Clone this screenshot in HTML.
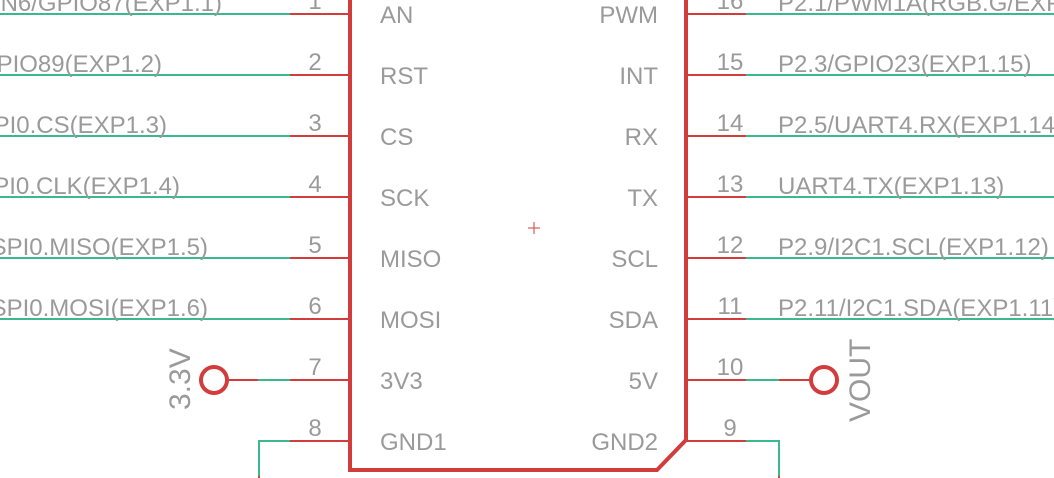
<!DOCTYPE html>
<html><head><meta charset="utf-8"><style>
html,body{margin:0;padding:0;background:#fff;width:1054px;height:478px;overflow:hidden}
svg text{font-family:"Liberation Sans",sans-serif;fill:#9a9a9a;font-size:24px}
svg text.rot{font-size:30px}
</style></head><body>
<svg width="1054" height="478" viewBox="0 0 1054 478">
<g id="g"></g>
<path d="M350,-5 L350,470 L657,470 L686,440 L686,-5" fill="none" stroke="#d33c3c" stroke-width="4"/>
<path d="M528,228 h12 M534,222 v12" stroke="#d33c3c" stroke-width="1"/>
<circle cx="214" cy="380" r="13" fill="none" stroke="#d33c3c" stroke-width="4"/>
<text class="rot" transform="translate(190,410) rotate(-90)">3.3V</text>
<circle cx="824" cy="380" r="13" fill="none" stroke="#d33c3c" stroke-width="4"/>
<text class="rot" transform="translate(870,422) rotate(-90)">VOUT</text>
</svg>
<script>
const leftPins=["AN","RST","CS","SCK","MISO","MOSI","3V3","GND1"];
const rightPins=["PWM","INT","RX","TX","SCL","SDA","5V","GND2"];
const leftNums=["1","2","3","4","5","6","7","8"];
const rightNums=["16","15","14","13","12","11","10","9"];
const leftNets=["N6/GPIO87(EXP1.1)","PIO89(EXP1.2)","PI0.CS(EXP1.3)","PI0.CLK(EXP1.4)","SPI0.MISO(EXP1.5)","SPI0.MOSI(EXP1.6)","",""];
const rightNets=["P2.1/PWM1A(RGB.G/EXP1.16)","P2.3/GPIO23(EXP1.15)","P2.5/UART4.RX(EXP1.14)","UART4.TX(EXP1.13)","P2.9/I2C1.SCL(EXP1.12)","P2.11/I2C1.SDA(EXP1.11)","",""];
const g=document.getElementById('g');const NS="http://www.w3.org/2000/svg";
function el(t,a,txt){const e=document.createElementNS(NS,t);for(const k in a)e.setAttribute(k,a[k]);if(txt!==undefined)e.textContent=txt;g.appendChild(e);return e;}
const R="#d33c3c",G="#3cb98c";
for(let i=0;i<8;i++){
 const y=14+i*61;
 let e;
 e=el('line',{x1:290,y1:y,x2:350,y2:y,stroke:R,'stroke-width':2});
 
 
 e=el('line',{x1:686,y1:y,x2:746,y2:y,stroke:R,'stroke-width':2});
 
 
 e=el('text',{x:315,y:y-5,'text-anchor':'middle'},leftNums[i]);
 
 
 e=el('text',{x:730,y:y-5,'text-anchor':'middle'},rightNums[i]);
 
 
 e=el('text',{x:380,y:y+9},leftPins[i]);
 
 
 e=el('text',{x:658,y:y+9,'text-anchor':'end'},rightPins[i]);
 
 
 if(i<6){
  e=el('line',{x1:0,y1:y,x2:290,y2:y,stroke:G,'stroke-width':2});
  
  
  e=el('line',{x1:746,y1:y,x2:1054,y2:y,stroke:G,'stroke-width':2});
  
  
  e=el('text',{x:222-[0,60,55,42,14,14][i],y:y-3,'text-anchor':'end'},leftNets[i]);
  
  
  e=el('text',{x:778,y:y-3},rightNets[i]);
  
  
 }
}
let e;
e=el('path',{d:'M227,380 H258',stroke:R,'stroke-width':2,fill:'none'});
e=el('path',{d:'M258,380 H290',stroke:G,'stroke-width':2,fill:'none'});
e=el('path',{d:'M290,441 H259 V476',stroke:G,'stroke-width':2,fill:'none'});
e=el('path',{d:'M259,476 V478',stroke:R,'stroke-width':2});
e=el('path',{d:'M746,380 H779',stroke:G,'stroke-width':2,fill:'none'});
e=el('path',{d:'M779,380 H811',stroke:R,'stroke-width':2,fill:'none'});
e=el('path',{d:'M746,441 H779 V476',stroke:G,'stroke-width':2,fill:'none'});
e=el('path',{d:'M779,476 V478',stroke:R,'stroke-width':2});
</script>
</body></html>
